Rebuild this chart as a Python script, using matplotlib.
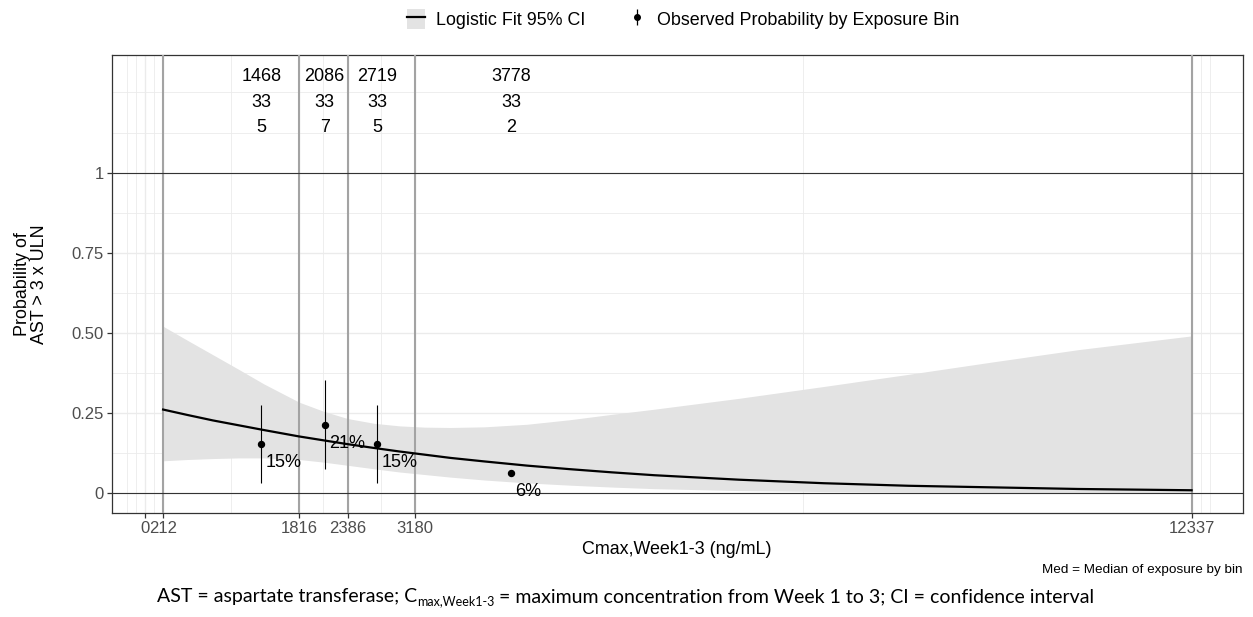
import matplotlib
matplotlib.use('Agg')
import matplotlib.pyplot as plt
from matplotlib.lines import Line2D
from matplotlib.patches import Patch
import numpy as np

plt.rcParams['font.family'] = ['Liberation Sans', 'DejaVu Sans']

# logistic fit of P(AST > 3 x ULN) vs Cmax, with 95% CI
fit_x = [212, 500, 800, 1100, 1400, 1816, 2100, 2386, 2700, 3000, 3300, 3600,
         4000, 4500, 5000, 5500, 6000, 7000, 8000, 9000, 10000, 11000, 12337]
fit_p = [0.260, 0.243, 0.226, 0.211, 0.196, 0.176, 0.164, 0.152, 0.140, 0.129,
         0.119, 0.109, 0.098, 0.085, 0.074, 0.064, 0.055, 0.041, 0.030, 0.022,
         0.017, 0.012, 0.008]
ci_lo = [0.100, 0.104, 0.107, 0.109, 0.109, 0.104, 0.096, 0.086, 0.075, 0.065,
         0.057, 0.049, 0.040, 0.031, 0.024, 0.018, 0.013, 0.007, 0.004, 0.002,
         0.001, 0.0006, 0.0003]
ci_hi = [0.520, 0.476, 0.431, 0.386, 0.340, 0.283, 0.255, 0.232, 0.217, 0.209,
         0.205, 0.204, 0.206, 0.214, 0.228, 0.245, 0.261, 0.295, 0.332, 0.370,
         0.409, 0.447, 0.490]

# observed proportions by exposure bin
bin_x = [1370, 2116, 2737, 4316]
bin_med = [1468, 2086, 2719, 3778]
bin_n = [33, 33, 33, 33]
bin_events = [5, 7, 5, 2]
bin_lo = [0.030, 0.073, 0.030, np.nan]
bin_hi = [0.275, 0.352, 0.275, np.nan]

bin_edges = [212, 1816, 2386, 3180, 12337]
x_ticks = [0, 212, 1816, 2386, 3180, 12337]
x_minor = [-212, -106, 106, 1014, 2101, 2783, 7758, 12445, 12550]
y_ticks = [0, 0.25, 0.5, 0.75, 1]
y_grid = [0.125, 0.375, 0.625, 0.875, 1.125, 1.25]

obs_p = np.array(bin_events) / np.array(bin_n)

W, H = 1253, 617
fig = plt.figure(figsize=(W / 100, H / 100), dpi=100)
ax = fig.add_axes([111.7 / W, 1 - 513 / H, (1243 - 111.7) / W, (513 - 55) / H])

grid_c = '#EBEBEB'
ax.set_axisbelow(True)
ax.set_xticks(x_ticks)
ax.set_xticklabels([str(t) for t in x_ticks])
ax.set_xticks(x_minor, minor=True)
ax.set_yticks(y_ticks)
ax.set_yticklabels(['0', '0.25', '0.50', '0.75', '1'])
ax.set_yticks(y_grid, minor=True)
ax.grid(which='major', color=grid_c, lw=1.0)
ax.grid(which='minor', color=grid_c, lw=0.6)
ax.tick_params(which='minor', length=0)
ax.tick_params(which='major', length=3.5, width=0.9, color='#333333',
               labelsize=12, labelcolor='#4D4D4D', pad=2)

ax.fill_between(fit_x, ci_lo, ci_hi, color='#E3E3E3', lw=0, zorder=2)
for e in bin_edges:
    ax.axvline(e, color='#A3A3A3', lw=1.5, zorder=3)
ax.axhline(0, color='#333333', lw=0.8, zorder=3)
ax.axhline(1, color='#333333', lw=0.8, zorder=3)
ax.plot(fit_x, fit_p, color='black', lw=1.6, zorder=4)

ax.vlines(bin_x, bin_lo, bin_hi, color='black', lw=0.8, zorder=5)
ax.plot(bin_x, obs_p, 'o', color='black', ms=4.3, zorder=6)
for x, p in zip(bin_x, obs_p):
    ax.annotate(f'{round(p * 100):.0f}%', (x, p - 0.057), xytext=(3, 0),
                textcoords='offset points', ha='left', va='center', fontsize=13)

# med / n / events rows above the plot
for x, m, n, ev in zip(bin_x, bin_med, bin_n, bin_events):
    for y, s in zip([1.30, 1.22, 1.14], [m, n, ev]):
        ax.text(x, y, str(s), ha='center', va='center', fontsize=13)

ax.set_xlim(-394, 12943)
ax.set_ylim(-0.063, 1.367)
for sp in ax.spines.values():
    sp.set_color('#333333')
    sp.set_linewidth(0.9)

fig.text(677 / W, 1 - 550 / H, 'Cmax,Week1-3 (ng/mL)', ha='center', va='center', fontsize=12.9)
fig.text(31 / W, 1 - 284 / H, 'Probability of\nAST > 3 x ULN', rotation=90,
         ha='center', va='center', fontsize=12.9, linespacing=1.0, multialignment='center')
fig.text(1243 / W, 1 - 570 / H, 'Med = Median of exposure by bin', ha='right', va='center',
         fontsize=9.7)

handles = [(Patch(fc='#E3E3E3', ec='none'), Line2D([], [], color='black', lw=1.6)),
           (Line2D([], [], color='black', marker='|', ms=11, mew=0.9, ls='none'),
            Line2D([], [], color='black', marker='o', ms=4, ls='none'))]
fig.legend(handles, ['Logistic Fit 95% CI', 'Observed Probability by Exposure Bin'],
           loc='center', bbox_to_anchor=(683 / W, 1 - 19 / H), ncol=2, frameon=False,
           fontsize=12.9, handlelength=1.0, handleheight=1.3, handletextpad=0.6,
           columnspacing=2.4)

# footnote with subscripted Cmax
renderer = fig.canvas.get_renderer()
runs = [('AST = aspartate transferase; C', 14, 0),
        ('max,Week1-3', 9, -3),
        (' = maximum concentration from Week 1 to 3; CI = confidence interval', 14, 0)]
xp = 157
for s, size, dy in runs:
    t = fig.text(xp / W, (H - 602 + dy) / H, s, fontsize=size, family='Lato',
                 ha='left', va='baseline')
    xp += t.get_window_extent(renderer).width

fig.savefig('out.png', dpi=100)
